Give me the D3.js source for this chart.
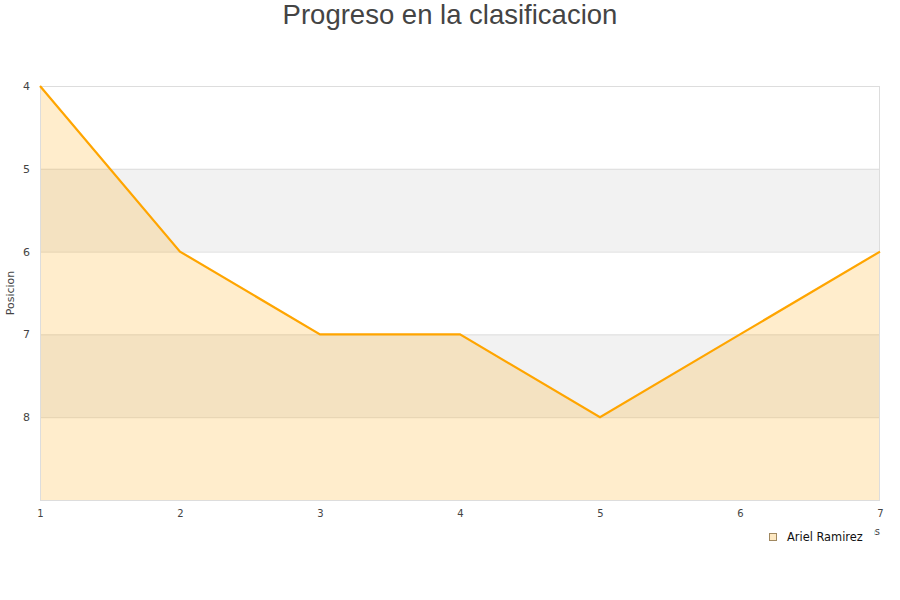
<!DOCTYPE html>
<html><head><meta charset="utf-8">
<script src="https://cdn.jsdelivr.net/npm/d3@7"></script>
<style>body{margin:0;background:#fff}svg{display:block}</style>
</head><body>
<svg id="c" width="900" height="600"></svg>
<script>
const jornadas = [1,2,3,4,5,6,7];
const posiciones = [4,6,7,7,8,7,6];
const yTicks = [4,5,6,7,8];
const seriesName = "Ariel Ramirez";
const titleText = "Progreso en la clasificacion";
const yTitle = "Posicion";
const xTitle = "Jornadas";

const svg = d3.select("#c");
const L=40,R=880,T=86,B=500;
const x = d3.scaleLinear().domain([1,7]).range([L,R]);
const y = d3.scaleLinear().domain([4,9]).range([T,B]);

// bands
[[5,6],[7,8]].forEach(b=>{
  svg.append("rect").attr("x",L).attr("y",y(b[0])).attr("width",R-L).attr("height",y(b[1])-y(b[0])).attr("fill","#f2f2f2");
});
// grid
yTicks.slice(1).forEach(t=>{
  svg.append("line").attr("x1",L).attr("x2",R).attr("y1",y(t)+0.5).attr("y2",y(t)+0.5).attr("stroke","#dddddd");
});
// area
const data = jornadas.map((j,i)=>({j,p:posiciones[i]}));
svg.append("path").datum(data).attr("d",d3.area().x(d=>x(d.j)).y0(y(9)).y1(d=>y(d.p)))
  .attr("fill","#ffa500").attr("fill-opacity",0.2);
// border
svg.append("rect").attr("x",L+0.5).attr("y",T+0.5).attr("width",R-L-1).attr("height",B-T).attr("fill","none").attr("stroke","#dddddd");
// line
svg.append("path").datum(data).attr("d",d3.line().x(d=>x(d.j)).y(d=>y(d.p)))
  .attr("fill","none").attr("stroke","#ffa500").attr("stroke-width",2.2);

// y axis labels
const yAx = svg.append("g").attr("transform",`translate(${L},0)`)
  .call(d3.axisLeft(y).tickValues(yTicks).tickFormat(d3.format("d")).tickSize(0).tickPadding(10));
yAx.select(".domain").remove();
yAx.selectAll("text").attr("font-family","DejaVu Sans").attr("font-size",11).attr("fill","#444");
// x axis labels
const xAx = svg.append("g").attr("transform",`translate(0,${B})`)
  .call(d3.axisBottom(x).tickValues(jornadas).tickFormat(d3.format("d")).tickSize(0).tickPadding(10));
xAx.select(".domain").remove();
xAx.selectAll("text").attr("font-family","DejaVu Sans").attr("font-size",10).attr("fill","#444");

// titles
svg.append("text").attr("x",450).attr("y",24).attr("text-anchor","middle")
  .attr("font-family","Liberation Sans, Arial, sans-serif").attr("font-size",27.5).attr("fill","#444").text(titleText);
svg.append("text").attr("transform",`translate(14,${(T+B)/2}) rotate(-90)`).attr("text-anchor","middle")
  .attr("font-family","DejaVu Sans").attr("font-size",11).attr("fill","#444").text(yTitle);
svg.append("text").attr("x",880).attr("y",535).attr("text-anchor","end")
  .attr("font-family","DejaVu Sans").attr("font-size",10).attr("fill","#444").text(xTitle);

// legend
const lg = svg.append("g");
lg.append("rect").attr("x",762).attr("y",526).attr("width",112).attr("height",22).attr("fill","#fff");
lg.append("rect").attr("x",769.5).attr("y",533.5).attr("width",7).attr("height",7).attr("fill","#fde8c2").attr("stroke","#a08860");
lg.append("text").attr("x",787).attr("y",541).attr("font-family","DejaVu Sans").attr("font-size",11.4).attr("fill","#111").text(seriesName);
</script>
</body></html>
